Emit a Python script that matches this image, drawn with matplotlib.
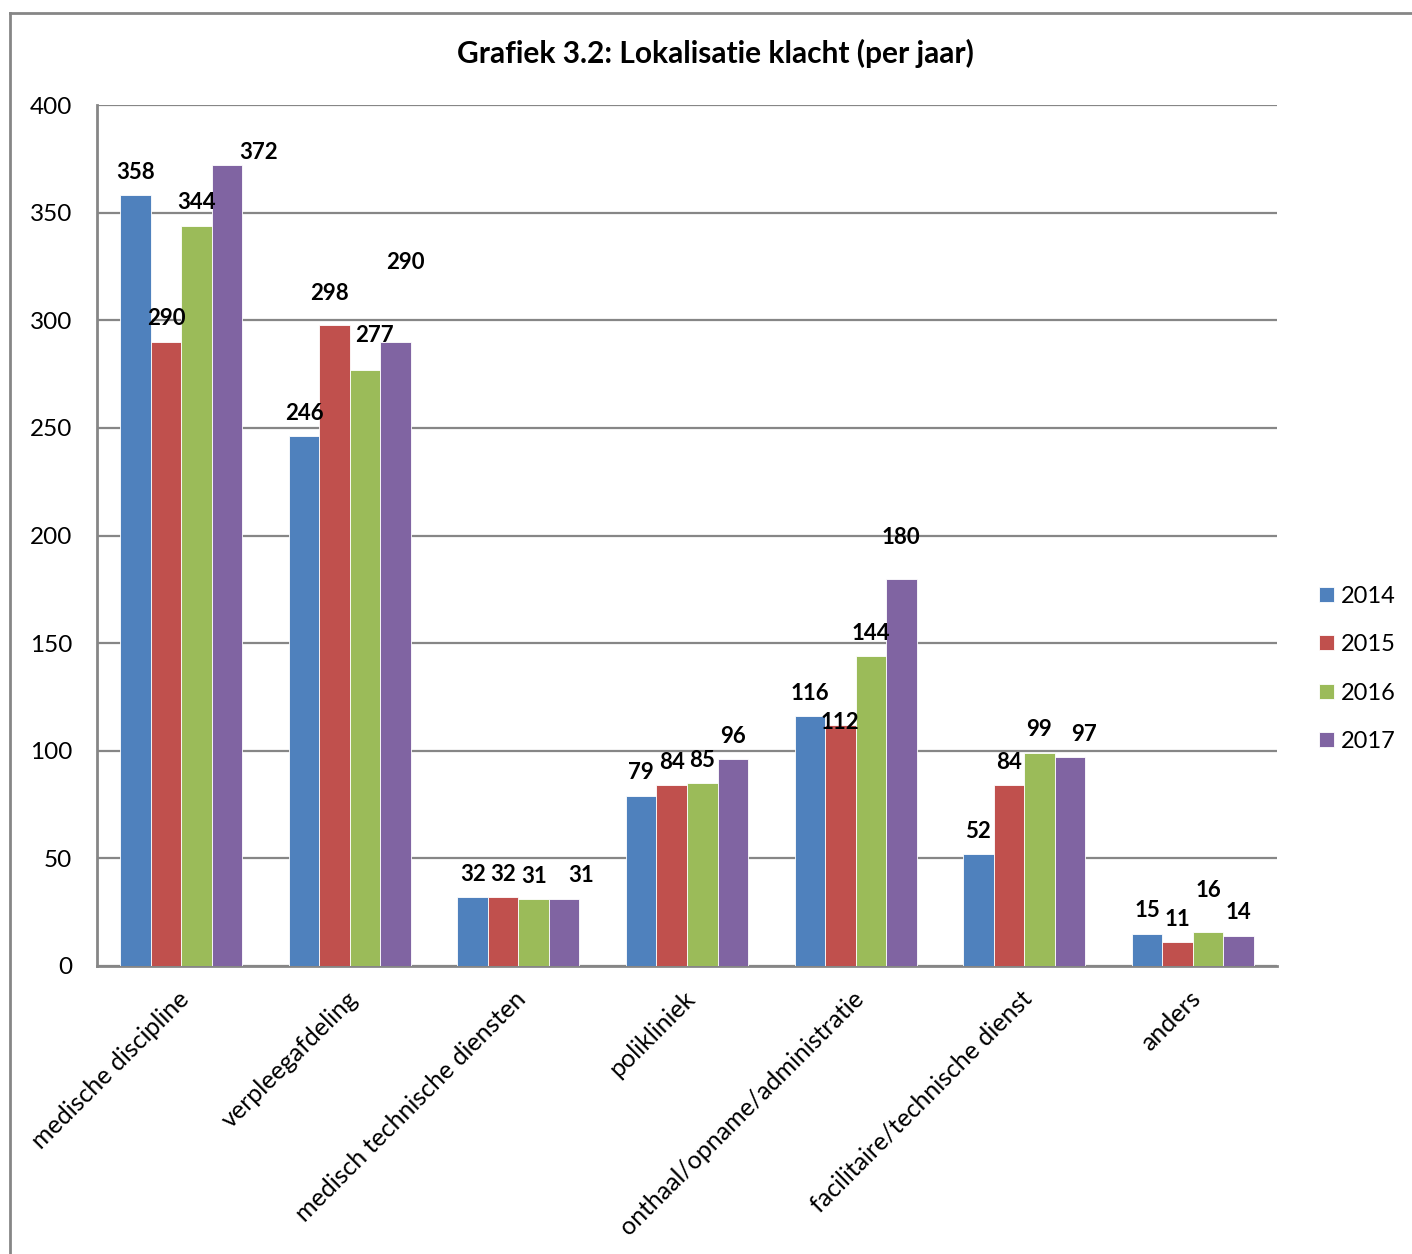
import matplotlib
matplotlib.use("Agg")
import matplotlib.pyplot as plt
from matplotlib.lines import Line2D
import numpy as np

plt.rcParams['font.family'] = ['Lato', 'DejaVu Sans']

categories = ["medische discipline", "verpleegafdeling", "medisch technische diensten",
              "polikliniek", "onthaal/opname/administratie", "facilitaire/technische dienst",
              "anders"]
years = ["2014", "2015", "2016", "2017"]
v2014 = [358, 246, 32, 79, 116, 52, 15]
v2015 = [290, 298, 32, 84, 112, 84, 11]
v2016 = [344, 277, 31, 85, 144, 99, 16]
v2017 = [372, 290, 31, 96, 180, 97, 14]
series = [v2014, v2015, v2016, v2017]
colors = ["#4F81BD", "#C0504D", "#9BBB59", "#8064A2"]
yticks = [0, 50, 100, 150, 200, 250, 300, 350, 400]
title = "Grafiek 3.2: Lokalisatie klacht (per jaar)"

# manual label nudges (pixels) as in the original chart: (series, category) -> (dx, dy)
label_nudge = {
    (3, 0): (31, 13),
    (1, 1): (-5, 31),
    (2, 1): (9, 34),
    (3, 1): (10, 79),
    (3, 2): (17, 24),
    (1, 4): (0, 2),
    (3, 4): (0, 41),
    (3, 5): (14, 23),
    (2, 6): (0, 41),
}

fig = plt.figure(figsize=(14.12, 12.54), dpi=100)
ax = fig.add_axes([97/1412, 1-966/1254, (1277-97)/1412, (966-105)/1254])

x = np.arange(len(categories))
bw = 0.181
for i, (vals, c) in enumerate(zip(series, colors)):
    pos = x + (i - 1.5) * bw
    ax.bar(pos, vals, width=bw, color=c, edgecolor="white", linewidth=0.6,
           label=years[i], zorder=3)
    for j, (p, v) in enumerate(zip(pos, vals)):
        dx, dy = label_nudge.get((i, j), (0, 23))
        ax.annotate(str(v), (p, v), xytext=(dx, dy), textcoords="offset pixels",
                    ha="center", va="center", fontsize=16, fontweight="bold",
                    zorder=5)

ax.set_xlim(-0.5, len(categories) - 0.5)
ax.set_ylim(0, 400)
ax.set_yticks(yticks)
ax.set_yticklabels([str(t) for t in yticks], fontsize=17.5)
ax.yaxis.grid(True, color="#868686", linewidth=1.6, zorder=0)
ax.set_axisbelow(True)
ax.tick_params(axis="y", length=0, pad=18)
ax.tick_params(axis="x", length=0)
ax.set_xticks(x)
ax.set_xticklabels([])
for xi, cat in zip(x, categories):
    ax.annotate(cat, (xi, 0), xytext=(4, -29), textcoords="offset pixels",
                ha="right", va="center", rotation=45, rotation_mode="anchor",
                fontsize=18)

for s in ["top", "right"]:
    ax.spines[s].set_visible(False)
for s in ["left", "bottom"]:
    ax.spines[s].set_color("#868686")
    ax.spines[s].set_linewidth(2)

fig.text(715/1412, 1-53/1254, title, ha="center", va="center",
         fontsize=21.5, fontweight="bold")

leg = ax.legend(loc="center left", bbox_to_anchor=(1.036, 0.345), frameon=False,
                fontsize=17, handlelength=0.6, handleheight=0.6, handletextpad=0.3,
                labelspacing=1.16, borderaxespad=0, borderpad=0)

# chart-area border (left and top only visible)
fig.add_artist(Line2D([9.5/1412, 9.5/1412], [0, 1-12.5/1254], color="#868686",
                      linewidth=2, transform=fig.transFigure))
fig.add_artist(Line2D([9.5/1412, 1], [1-12.5/1254, 1-12.5/1254], color="#868686",
                      linewidth=2, transform=fig.transFigure))

fig.savefig("out.png", dpi=100, facecolor="white")
